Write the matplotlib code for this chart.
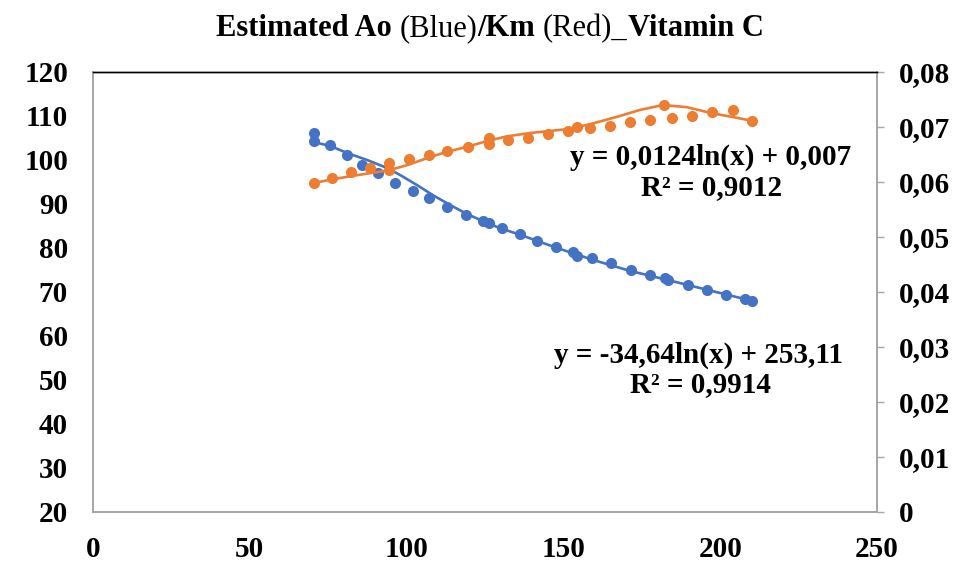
import matplotlib.pyplot as plt
from matplotlib.ticker import FuncFormatter

# Ao (blue, left axis) measured points
ao_x = [70.5, 70.5, 75.6, 81.0, 85.8, 91.0, 96.3, 102.0, 107.1, 112.9, 118.9, 124.4,
        126.3, 130.4, 136.2, 141.6, 147.6, 153.1, 154.3, 159.1, 165.2, 171.6, 177.6,
        182.4, 183.4, 189.7, 195.8, 201.9, 207.9, 210.1]
ao_y = [106.1, 104.4, 103.4, 101.1, 98.9, 97.0, 94.8, 93.0, 91.4, 89.3, 87.5, 86.1,
        85.7, 84.5, 83.2, 81.6, 80.2, 79.1, 78.2, 77.7, 76.6, 75.0, 73.9,
        73.2, 72.7, 71.6, 70.5, 69.3, 68.4, 68.0]

# Ao smoothed line
ao_line_x = [70.2, 75.6, 81.0, 87.4, 93.7, 97.9, 103.3, 108.4, 113.8, 119.3, 125.0,
             129.8, 136.2, 148.0, 159.4, 171.2, 183.4, 195.8, 210.1]
ao_line_y = [104.1, 103.2, 101.6, 100.0, 98.2, 96.6, 94.3, 92.0, 89.8, 87.7, 85.9,
             84.5, 83.0, 80.0, 77.3, 74.8, 72.7, 70.5, 68.0]

# Km (orange, right axis) measured points
km_x = [70.5, 76.2, 82.3, 88.3, 94.4, 94.4, 100.8, 107.1, 112.9, 119.6, 126.3, 126.3,
        132.3, 138.7, 145.1, 151.4, 154.3, 158.5, 164.9, 171.2, 177.6, 182.1, 184.6,
        191.0, 197.4, 204.1, 210.1]
km_y = [0.0598, 0.0607, 0.0618, 0.0625, 0.0635, 0.0622, 0.0642, 0.0649, 0.0656, 0.0664,
        0.0680, 0.0669, 0.0676, 0.0680, 0.0687, 0.0693, 0.0700, 0.0698, 0.0702, 0.0709,
        0.0713, 0.0740, 0.0716, 0.0720, 0.0727, 0.0731, 0.0711]

# Km smoothed line
km_line_x = [70.2, 76.5, 82.6, 88.3, 94.1, 100.4, 106.8, 112.9, 119.3, 126.0, 132.0,
             139.3, 151.1, 158.5, 168.0, 174.4, 181.8, 189.4, 197.4, 204.1, 210.4]
km_line_y = [0.0598, 0.0605, 0.0611, 0.0616, 0.0621, 0.0631, 0.0644, 0.0655, 0.0664,
             0.0675, 0.0683, 0.0689, 0.0696, 0.0705, 0.0720, 0.0731, 0.0740, 0.0736,
             0.0725, 0.0718, 0.0711]

blue = '#4472C4'
orange = '#ED7D31'
grey = '#A6A6A6'
serif = 'Liberation Serif'

fig = plt.figure(figsize=(9.61, 5.70), dpi=100)
ax = fig.add_axes([0.0968, 0.1018, 0.8158, 0.7719])
ax2 = ax.twinx()

ax.plot(ao_line_x, ao_line_y, color=blue, lw=1.9, zorder=2)
ax.plot(ao_x, ao_y, 'o', color=blue, ms=8, mec='none', zorder=3)
ax2.plot(km_line_x, km_line_y, color=orange, lw=1.9, zorder=2)
ax2.plot(km_x, km_y, 'o', color=orange, ms=8, mec='none', zorder=3)

ax.set_xlim(0, 250)
ax.set_ylim(20, 120)
ax2.set_ylim(0, 0.08)
ax.set_xticks(range(0, 251, 50))
ax.set_yticks(range(20, 121, 10))
ax2.set_yticks([i / 100 for i in range(0, 9)])
ax2.yaxis.set_major_formatter(FuncFormatter(
    lambda v, p: '0' if abs(v) < 1e-9 else f'{v:.2f}'.replace('.', ',')))

for a in (ax, ax2):
    for s in a.spines.values():
        s.set_color(grey)
        s.set_linewidth(1.2)
    a.spines['top'].set_color('black')
    a.spines['top'].set_linewidth(1.0)

ax.tick_params(axis='x', length=0, pad=17, labelsize=21)
ax.tick_params(axis='y', length=0, pad=18, labelsize=21)
ax2.tick_params(axis='y', length=5, width=1, color=grey, pad=11, labelsize=21)
for lab in ax.get_xticklabels() + ax.get_yticklabels() + ax2.get_yticklabels():
    lab.set_fontfamily(serif)
    lab.set_fontweight('bold')

# trendline equations
fs = 21
fig.text(711 / 961, 1 - 157 / 570, 'y = 0,0124ln(x) + 0,007', ha='center', va='center',
         fontsize=fs, fontweight='bold', family=serif)
fig.text(712 / 961, 1 - 188 / 570, 'R² = 0,9012', ha='center', va='center',
         fontsize=fs, fontweight='bold', family=serif)
fig.text(698 / 961, 1 - 355 / 570, 'y = -34,64ln(x) + 253,11', ha='center', va='center',
         fontsize=fs, fontweight='bold', family=serif)
fig.text(700 / 961, 1 - 385 / 570, 'R² = 0,9914', ha='center', va='center',
         fontsize=fs, fontweight='bold', family=serif)

# title with mixed weights
parts = [('Estimated Ao ', 'bold'), ('(Blue)', 'normal'), ('/Km ', 'bold'),
         ('(Red)_', 'normal'), ('Vitamin C', 'bold')]
fig.canvas.draw()
r = fig.canvas.get_renderer()
pieces = []
for txt, w in parts:
    t = fig.text(0, 1 - 29 / 570, txt, fontsize=22, fontweight=w, family=serif,
                 va='center', ha='left')
    pieces.append(t)
widths = [t.get_window_extent(r).width for t in pieces]
total = sum(widths)
x0 = 490 - total / 2
for t, wd in zip(pieces, widths):
    t.set_x(x0 / 961)
    x0 += wd

fig.savefig('out.png', dpi=100)
